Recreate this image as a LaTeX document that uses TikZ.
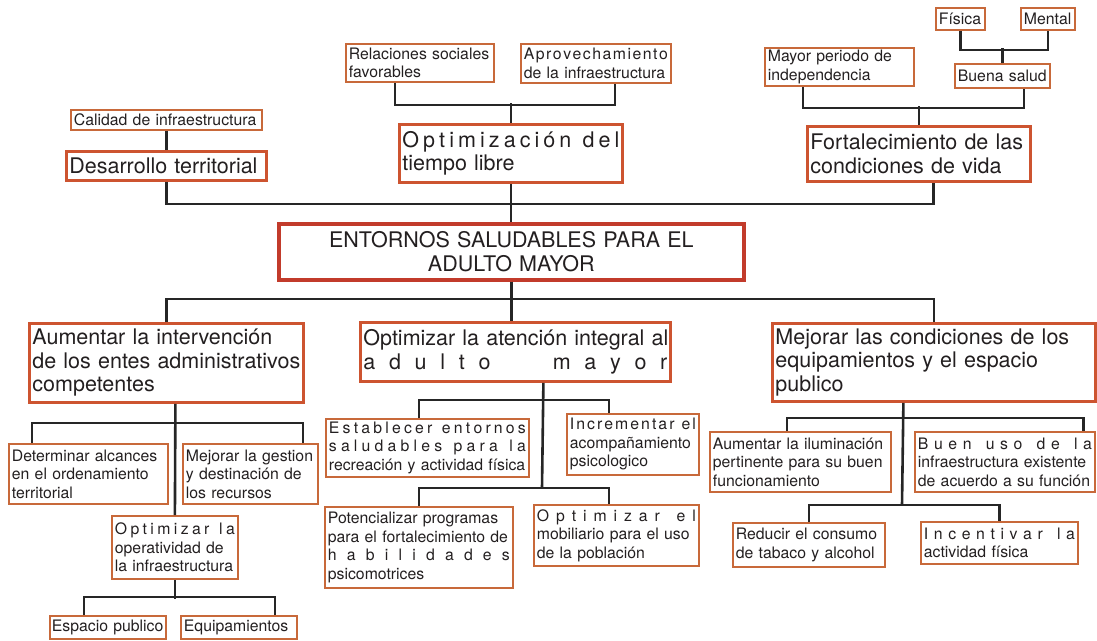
\documentclass[tikz,border=0pt]{standalone}
\usepackage{fontspec}
\setmainfont{TeX Gyre Heros}
\setlength{\parindent}{0pt}

\definecolor{borde}{HTML}{C8693A}
\definecolor{bordeB}{HTML}{CD5430}
\definecolor{rojo}{HTML}{C23B2B}
\definecolor{linea}{HTML}{262626}
\definecolor{texto}{HTML}{231F20}

% justified line, letter-spaced line, word gap inside a letter-spaced line
\newcommand{\jl}[1]{\makebox[\hsize][s]{#1}}
\newcommand{\ls}[1]{\makebox[\hsize][s]{\spaceskip=1pt plus 1fil\relax #1}}
\newcommand{\wg}[1][2]{\hskip 5pt plus #1fil\relax}

\tikzset{
  caja/.style 2 args={anchor=north west, text width=#1, minimum height=#2,
    inner xsep=3pt, inner ysep=0pt, align=left, text=texto},
  hoja/.style={draw=borde, line width=1.8pt, font=\fontsize{15.8}{18.5}\selectfont},
  rama/.style={draw=bordeB, line width=2.8pt, font=\fontsize{21.5}{23.5}\selectfont},
  raiz/.style={draw=rojo, line width=3.6pt, font=\fontsize{21.5}{24}\selectfont},
  enlace/.style={draw=linea, line width=2.6pt}
}

\begin{document}
\begin{tikzpicture}[x=1pt,y=-1pt]
\useasboundingbox (0,0) rectangle (1097,640);

% upper branches
\node[hoja,caja={185pt}{20pt}] (calidad) at (70,109) {Calidad de infraestructura};
\node[rama,caja={194pt}{29pt}] (desarr) at (65,150) {Desarrollo territorial};

\node[hoja,caja={142pt}{38pt}] (relac) at (345,43) {\jl{Relaciones sociales}\\favorables};
\node[hoja,caja={144pt}{39pt}] (aprov) at (520,43) {\ls{A p r o v e c h a m i e n t o}\\de la infraestructura};
\node[rama,caja={217pt}{58pt}] (optim) at (398,123) {\ls{O p t i m i z a c i ó n\wg d e l}\\tiempo libre};

\node[hoja,caja={43pt}{22pt}] (fisica) at (935,7) {Física};
\node[hoja,caja={48pt}{22pt}] (mental) at (1020,7) {Mental};
\node[hoja,caja={89pt}{24pt}] (buena) at (954,63) {Buena salud};
\node[hoja,caja={143pt}{38pt}] (mayor) at (764,47) {\jl{Mayor periodo de}\\independencia};
\node[rama,caja={217pt}{55pt}] (fort) at (806,125) {\jl{Fortalecimiento de las}\\condiciones de vida};

% root
\node[raiz,caja={459pt}{56pt},align=center] (entornos) at (277,222)
  {ENTORNOS SALUDABLES PARA EL\\ADULTO MAYOR};

% lower branches
\node[rama,caja={268pt}{79pt}] (aument) at (28,322)
  {\jl{Aumentar la intervención}\\\jl{de los entes administrativos}\\competentes};
\node[rama,caja={304pt}{59pt}] (aten) at (359,321)
  {\jl{Optimizar la atención integral al}\\\ls{a d u l t o\wg[4.5]m a y o r}};
\node[rama,caja={317pt}{78pt}] (mejor) at (771,322)
  {\jl{Mejorar las condiciones de los}\\\jl{equipamientos y el espacio}\\publico};

\node[hoja,caja={153pt}{60pt}] (determ) at (8,443)
  {\jl{Determinar alcances}\\\jl{en el ordenamiento}\\territorial};
\node[hoja,caja={129pt}{60pt}] (gestion) at (182,443)
  {\jl{Mejorar la gestion}\\\jl{y destinación de}\\los recursos};
\node[hoja,caja={120pt}{63pt}] (operat) at (111,515)
  {\ls{O p t i m i z a r\wg l a}\\\jl{operatividad de}\\la infraestructura};
\node[hoja,caja={112pt}{23pt},inner xsep=2pt] (espacio) at (49,615) {Espacio publico};
\node[hoja,caja={110pt}{23pt}] (equip) at (180,615) {Equipamientos};

\node[hoja,caja={197pt}{58pt}] (establ) at (325,418)
  {\ls{E s t a b l e c e r\wg e n t o r n o s}\\\ls{s a l u d a b l e s\wg p a r a\wg l a}\\recreación y actividad física};
\node[hoja,caja={126pt}{61pt}] (increm) at (566,413)
  {\ls{I n c r e m e n t a r\wg e l}\\acompañamiento\\psicologico};
\node[hoja,caja={182pt}{81pt}] (potenc) at (324,506)
  {\jl{Potencializar programas}\\\jl{para el fortalecimiento de}\\\ls{h a b i l i d a d e s}\\psicomotrices};
\node[hoja,caja={159pt}{61pt}] (mobil) at (533,504)
  {\ls{O p t i m i z a r\wg e l}\\\jl{mobiliario para el uso}\\de la población};

\node[hoja,caja={175pt}{60pt}] (ilumin) at (709,431)
  {\jl{Aumentar la iluminación}\\\jl{pertinente para su buen}\\funcionamiento};
\node[hoja,caja={174pt}{60pt}] (buenuso) at (914,431)
  {\ls{B u e n\wg u s o\wg d e\wg l a}\\\jl{infraestructura existente}\\\jl{de acuerdo a su función}};
\node[hoja,caja={146pt}{44pt}] (reduc) at (732,522)
  {\jl{Reducir el consumo}\\de tabaco y alcohol};
\node[hoja,caja={151pt}{42pt}] (incent) at (920,521)
  {\ls{I n c e n t i v a r\wg l a}\\actividad física};

% connectors, top
\draw[enlace] (calidad.south) -- (desarr.north);
\draw[enlace] ([xshift=-25pt]relac.south) -- ++(0,22) -| ([xshift=19pt]aprov.south);
\draw[enlace] (optim.north) -- ++(0,-20);
\draw[enlace] (fisica.south) -- ++(0,19) -| (mental.south);
\draw[enlace] (buena.north) -- ++(0,-15);
\draw[enlace] ([xshift=-36.5pt]mayor.south) -- ++(0,21) -| ([xshift=21.5pt]buena.south);
\draw[enlace] (fort.north) -- ++(0,-19);
\draw[enlace] (desarr.south) -- ++(0,22) -| ([xshift=14.5pt]fort.south);
\draw[enlace] (optim.south) -- (optim.south |- entornos.north);

% connectors, bottom
\draw[enlace] (entornos.south) -- (entornos.south |- aten.north);
\draw[enlace] (aument.north) -- ++(0,-23) -| (mejor.north);

\draw[enlace] ([xshift=9pt]aument.south) -- (operat.north);
\draw[enlace] ([xshift=-56.5pt]determ.north) -- ++(0,-20) -| ([xshift=52.5pt]gestion.north);
\draw[enlace] (operat.south) -- ++(0,19);
\draw[enlace] ([xshift=-24pt]espacio.north) -- ++(0,-18) -| ([xshift=36pt]equip.north);

\coordinate (atenJ) at (542,488);
\draw[enlace] ([xshift=28pt]aten.south) -- (atenJ);
\draw[enlace] ([xshift=-8.5pt]establ.north) -- ++(0,-18) -| ([xshift=-24pt]increm.north);
\draw[enlace] (potenc.north) -- ++(0,-18) -| ([xshift=-7.5pt]mobil.north);

\coordinate (mejorJ) at (902,505);
\draw[enlace] ([xshift=-30.5pt]mejor.south) -- (mejorJ);
\draw[enlace] ([xshift=-13.5pt]ilumin.north) -- ++(0,-13) -| ([xshift=78.5pt]buenuso.north);
\draw[enlace] (reduc.north) -- ++(0,-17) -| (incent.north);

\end{tikzpicture}
\end{document}
